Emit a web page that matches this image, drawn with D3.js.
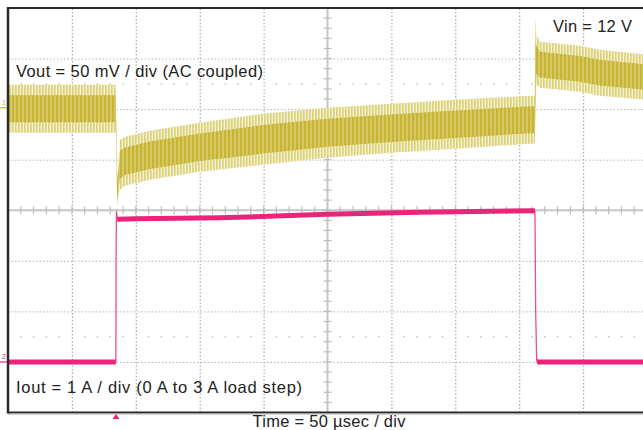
<!DOCTYPE html>
<html><head><meta charset="utf-8">
<script src="https://cdn.jsdelivr.net/npm/d3@7"></script>
<style>
body{margin:0;background:#fff}
svg{display:block}
text{font-family:"Liberation Sans",Arial,Helvetica,sans-serif}
</style>
</head><body>
<svg id="c" width="643" height="430"></svg>
<script>
// ---- data ----
// time in µs (50 µs / div, 10 divisions)
const timeGrid = [0, 50, 100, 150, 200, 250, 300, 350, 400, 450, 500];
const divGrid = [-4, -3, -2, -1, 0, 1, 2, 3, 4];
// Vout ripple envelope, mV (AC coupled, 50 mV / div)
const voutT  = [0, 84.3, 85.4, 86.5, 87.6, 91.5, 111, 150, 199.5, 249.6, 299.7, 349.8, 408.5, 412.2, 412.6, 413.5, 416.3, 447.6, 463, 500];
const voutHi = [22.7, 22.7, -68, -55, -31.6, -28.7, -22.7, -14.8, -5.9, 0, 4, 7.9, 11.9, 11.9, 90, 72, 65.3, 61.3, 57.4, 52.4];
const voutLo = [-24.7, -24.7, -95.9, -86, -81.1, -77.1, -71.2, -63.3, -56.4, -49.5, -44.5, -40.5, -35.6, -35.6, -16.8, 22.7, 19.8, 15.8, 11.9, 7.9];
// Iout, A (1 A / div)
const ioutT = [0, 84.4, 84.6, 84.9, 85.5, 100, 166, 250, 322, 412.2, 412.4, 412.9, 413.6, 414.2, 500];
const ioutA = [0, 0, 2.3, 2.98, 2.82, 2.83, 2.85, 2.92, 2.96, 2.99, 2.83, 1.0, 0.08, 0, 0];
const triggerT = 84.5;
const labels = {
  vout: "Vout = 50 mV / div (AC coupled)",
  vin: "Vin = 12 V",
  iout: "Iout = 1 A / div (0 A to 3 A load step)",
  time: "Time = 50 \u00b5sec / div"
};

// ---- scales ----
const L = 8, R = 647, T = 8, B = 412.5;
const x = d3.scaleLinear().domain([0, 500]).range([L, R]);
const yDiv = d3.scaleLinear().domain([-4, 4]).range([B, T]);
const ch1Zero = 2.027, ch2Zero = -3.0;
const yV = d3.scaleLinear().domain([(-4 - ch1Zero) * 50, (4 - ch1Zero) * 50]).range([B, T]);
const yI = d3.scaleLinear().domain([-4 - ch2Zero, 4 - ch2Zero]).range([B, T]);

const svg = d3.select("#c");
const defs = svg.append("defs");
const p1 = defs.append("pattern").attr("id", "rOuter").attr("patternUnits", "userSpaceOnUse").attr("width", 3).attr("height", 8);
p1.append("rect").attr("width", 3).attr("height", 8).attr("fill", "#f4f0d2");
p1.append("rect").attr("width", 1.7).attr("height", 8).attr("fill", "#ddd27c");
const p2 = defs.append("pattern").attr("id", "rInner").attr("patternUnits", "userSpaceOnUse").attr("width", 4).attr("height", 8);
p2.append("rect").attr("width", 4).attr("height", 8).attr("fill", "#c6b432");
p2.append("rect").attr("x", 2.5).attr("width", 1).attr("height", 8).attr("fill", "#e4da90");
defs.append("clipPath").attr("id", "plot").append("rect").attr("x", L).attr("y", T).attr("width", R - L).attr("height", B - T);

// ---- grid via axes ----
const gx = svg.append("g").attr("transform", `translate(0,${B})`)
  .call(d3.axisBottom(x).tickValues(timeGrid.filter(t => t > 0 && t < 500 && t !== 250)).tickSize(-(B - T)).tickFormat(""));
gx.select(".domain").remove();
gx.selectAll("line").attr("stroke", "#aaaaaa").attr("stroke-width", 1.2).attr("stroke-dasharray", "1.5,2");
const gy = svg.append("g").attr("transform", `translate(${L},0)`)
  .call(d3.axisLeft(yDiv).tickValues(divGrid.filter(d => d !== 0 && Math.abs(d) < 4)).tickSize(-(R - L)).tickFormat(""));
gy.select(".domain").remove();
gy.selectAll("line").attr("stroke", "#b4b4b4").attr("stroke-width", 1).attr("stroke-dasharray", "1.5,2");

// center cross with minor ticks
const minorT = d3.range(0, 501, 10);
const minorD = d3.range(-4, 4.01, 0.2);
svg.append("line").attr("x1", L).attr("x2", R).attr("y1", yDiv(0)).attr("y2", yDiv(0)).attr("stroke", "#c6c6c6").attr("stroke-width", 2);
svg.append("line").attr("x1", x(250)).attr("x2", x(250)).attr("y1", T).attr("y2", B).attr("stroke", "#c6c6c6").attr("stroke-width", 2);
svg.append("g").selectAll("line").data(minorT).join("line")
  .attr("x1", d => x(d)).attr("x2", d => x(d)).attr("y1", yDiv(0) - 4).attr("y2", yDiv(0) + 4)
  .attr("stroke", "#bdbdbd").attr("stroke-width", 1.2);
svg.append("g").selectAll("line").data(minorD).join("line")
  .attr("x1", x(250) - 4).attr("x2", x(250) + 4).attr("y1", d => yDiv(d)).attr("y2", d => yDiv(d))
  .attr("stroke", "#bdbdbd").attr("stroke-width", 1.2);
// dotted rows at +/-2.5 div
[2.5, -2.5].forEach(dv => {
  svg.append("g").selectAll("rect").data(minorT.filter(t => t % 50 !== 0)).join("rect")
    .attr("x", d => x(d) - 0.6).attr("y", yDiv(dv) - 0.6).attr("width", 1.3).attr("height", 1.3).attr("fill", "#b0b0b0");
});

// ---- traces ----
const vData = voutT.map((t, i) => ({t, hi: voutHi[i], lo: voutLo[i]}));
const plot = svg.append("g").attr("clip-path", "url(#plot)");
plot.append("path").datum(vData)
  .attr("d", d3.area().x(d => x(d.t)).y0(d => yV(d.lo)).y1(d => yV(d.hi)))
  .attr("fill", "url(#rOuter)");
plot.append("path").datum(vData)
  .attr("d", d3.area().x(d => x(d.t))
    .y0(d => { const a = yV(d.lo), b = yV(d.hi); return a - (a - b) * 0.22; })
    .y1(d => { const a = yV(d.lo), b = yV(d.hi); return b + (a - b) * 0.22; }))
  .attr("fill", "url(#rInner)");

const iData = ioutT.map((t, i) => ({t, a: ioutA[i]}));
plot.append("path").datum(iData)
  .attr("d", d3.line().x(d => x(d.t)).y(d => yI(d.a)))
  .attr("fill", "none").attr("stroke", "#ee4f93").attr("stroke-width", 1.3);
plot.append("path").datum(iData)
  .attr("d", d3.area().x(d => x(d.t)).y0(d => yI(d.a) + 2.5).y1(d => yI(d.a) - 2.5))
  .attr("fill", "#ea2479");

// ---- frame ----
svg.append("line").attr("x1", L).attr("x2", 643).attr("y1", T).attr("y2", T).attr("stroke", "#2a2a2a").attr("stroke-width", 2);
svg.append("line").attr("x1", L).attr("x2", 643).attr("y1", B).attr("y2", B).attr("stroke", "#2a2a2a").attr("stroke-width", 2);
svg.append("line").attr("x1", L).attr("x2", 643).attr("y1", B + 1.6).attr("y2", B + 1.6).attr("stroke", "#b8b8b8").attr("stroke-width", 1);
svg.append("line").attr("x1", L).attr("x2", L).attr("y1", T - 1).attr("y2", B + 1).attr("stroke", "#2a2a2a").attr("stroke-width", 2.5);

// channel markers
svg.append("line").attr("x1", 0).attr("x2", 7).attr("y1", yV(0)).attr("y2", yV(0)).attr("stroke", "#c9b52f").attr("stroke-width", 1.2);
svg.append("text").attr("x", 2).attr("y", yV(0) - 2.5).attr("font-size", 7).attr("fill", "#c9b52f").text("1");
svg.append("line").attr("x1", 0).attr("x2", 7).attr("y1", yI(0)).attr("y2", yI(0)).attr("stroke", "#ea2479").attr("stroke-width", 1.2);
svg.append("text").attr("x", 2).attr("y", yI(0) - 3).attr("font-size", 7).attr("fill", "#ea2479").text("2");
// trigger marker
const tx = x(triggerT);
svg.append("path").attr("d", `M${tx - 3.5},${B + 6.5} L${tx},${B + 1.5} L${tx + 3.5},${B + 6.5} Z`).attr("fill", "#ea2479");

// ---- text ----
const addText = (s, xx, yy, len, anchor) => svg.append("text").attr("x", xx).attr("y", yy)
  .attr("font-size", 16.5).attr("fill", "#222").attr("text-anchor", anchor || "start")
  .attr("textLength", len).attr("lengthAdjust", "spacing").text(s);
addText(labels.vout, 16, 77, 247);
addText(labels.vin, 553, 32, 79);
addText(labels.iout, 16, 393, 286);
addText(labels.time, 329, 427, 153, "middle");
</script>
</body></html>
